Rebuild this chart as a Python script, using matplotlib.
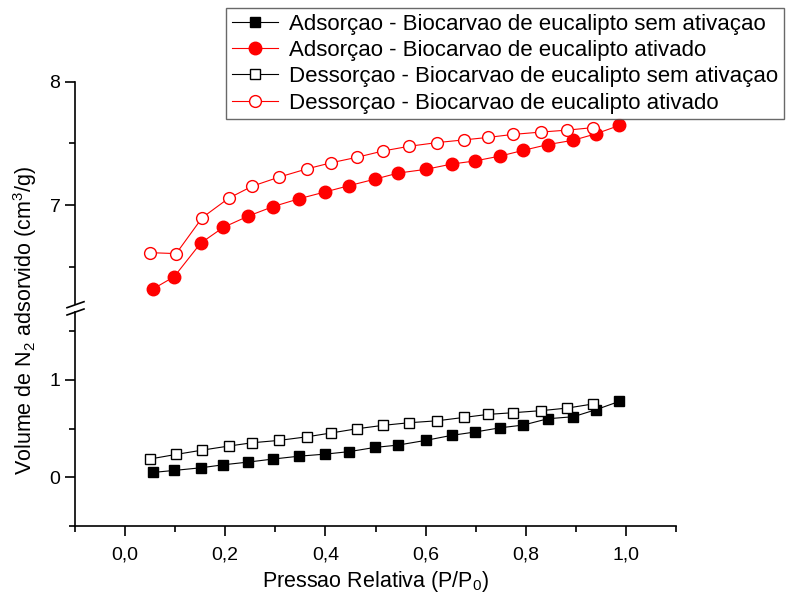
import matplotlib
matplotlib.use("Agg")
import matplotlib.pyplot as plt
from matplotlib.lines import Line2D
from matplotlib.ticker import MultipleLocator, FuncFormatter

plt.rcParams['font.family'] = ['Liberation Sans', 'DejaVu Sans']
plt.rcParams['mathtext.default'] = 'regular'

# relative pressure (P/P0)
p_ads = [0.055, 0.098, 0.151, 0.196, 0.246, 0.295, 0.348, 0.400, 0.448, 0.499,
         0.545, 0.600, 0.652, 0.698, 0.749, 0.795, 0.844, 0.895, 0.940, 0.987]
p_des = [0.049, 0.102, 0.154, 0.207, 0.254, 0.307, 0.363, 0.412, 0.463, 0.515,
         0.567, 0.623, 0.677, 0.725, 0.774, 0.830, 0.883, 0.934]

# volume N2 adsorbed (cm3/g)
ads_sem = [0.048, 0.069, 0.096, 0.127, 0.155, 0.186, 0.216, 0.237, 0.263, 0.306,
           0.330, 0.378, 0.430, 0.464, 0.508, 0.536, 0.601, 0.622, 0.694, 0.780]
ads_ativ = [6.320, 6.421, 6.693, 6.820, 6.912, 6.988, 7.053, 7.108, 7.159, 7.211,
            7.260, 7.290, 7.333, 7.358, 7.398, 7.444, 7.491, 7.526, 7.578, 7.646]
des_sem = [0.186, 0.234, 0.278, 0.320, 0.354, 0.378, 0.415, 0.455, 0.498, 0.533,
           0.560, 0.580, 0.615, 0.646, 0.663, 0.684, 0.711, 0.753]
des_ativ = [6.616, 6.608, 6.899, 7.057, 7.154, 7.227, 7.294, 7.344, 7.388, 7.439,
            7.477, 7.507, 7.529, 7.549, 7.573, 7.592, 7.608, 7.628]

labels = ["Adsorçao - Biocarvao de eucalipto sem ativaçao",
          "Adsorçao - Biocarvao de eucalipto ativado",
          "Dessorçao - Biocarvao de eucalipto sem ativaçao",
          "Dessorçao - Biocarvao de eucalipto ativado"]

W, H = 786, 599
fig = plt.figure(figsize=(W / 100, H / 100), dpi=100)

x0, x1 = 75 / W, 676 / W
ax_lo = fig.add_axes([x0, 1 - 525.7 / H, x1 - x0, (525.7 - 312) / H])
ax_hi = fig.add_axes([x0, 1 - 304 / H, x1 - x0, (304 - 81.7) / H])

lw = 0.8
ax_lo.plot(p_ads, ads_sem, color='black', lw=lw, marker='s', ms=7,
           mfc='black', mec='black')
ax_lo.plot(p_des, des_sem, color='black', lw=lw, marker='s', ms=7,
           mfc='white', mec='black', mew=1)
ax_hi.plot(p_ads, ads_ativ, color='red', lw=lw, marker='o', ms=9,
           mfc='red', mec='red')
ax_hi.plot(p_des, des_ativ, color='red', lw=lw, marker='o', ms=8.5,
           mfc='white', mec='red', mew=1)

for ax in (ax_lo, ax_hi):
    ax.set_xlim(-0.1, 1.1)
    ax.spines['top'].set_visible(False)
    ax.spines['right'].set_visible(False)
    ax.spines['left'].set_linewidth(1.2)
    ax.spines['bottom'].set_linewidth(1.2)
    ax.patch.set_alpha(0)
    ax.tick_params(which='major', direction='out', length=7, width=1.2, labelsize=14)
    ax.tick_params(which='minor', direction='out', length=4, width=1.2)

ax_lo.set_ylim(-0.5, 1.7)
ax_lo.yaxis.set_major_locator(MultipleLocator(1))
ax_lo.yaxis.set_minor_locator(MultipleLocator(0.5))
ax_lo.xaxis.set_major_locator(MultipleLocator(0.2))
ax_lo.xaxis.set_minor_locator(MultipleLocator(0.1))
ax_lo.xaxis.set_major_formatter(FuncFormatter(lambda v, pos: f"{v:.1f}".replace('.', ',')))
ax_lo.tick_params(axis='x', pad=8)

ax_hi.set_ylim(6.2, 8.0)
ax_hi.yaxis.set_major_locator(MultipleLocator(1))
ax_hi.yaxis.set_minor_locator(MultipleLocator(0.5))
ax_hi.spines['bottom'].set_visible(False)
ax_hi.tick_params(axis='x', which='both', bottom=False, labelbottom=False)

# axis break marks
for yb in (304.7, 312):
    fig.add_artist(Line2D([67 / W, 84 / W], [1 - (yb + 3) / H, 1 - (yb - 3) / H],
                          color='black', lw=1.2))

fig.text(375.5 / W, 1 - 582 / H, "Pressao Relativa (P/P$_0$)", fontsize=15.5,
         ha='center', va='center')
fig.text(25 / W, 1 - 320 / H, "Volume de N$_2$ adsorvido (cm$^3$/g)", fontsize=15.5,
         ha='center', va='center', rotation=90)

handles = [ax_lo.lines[0], ax_hi.lines[0], ax_lo.lines[1], ax_hi.lines[1]]
leg = fig.legend(handles, labels, loc='upper right', bbox_to_anchor=(784 / W, 1 - 8 / H),
                 fontsize=16, frameon=True, fancybox=False, handlelength=2.1,
                 handletextpad=0.5, labelspacing=0.24, borderpad=0.25,
                 borderaxespad=0)
leg.get_frame().set_edgecolor('#444444')
leg.get_frame().set_linewidth(1.0)

fig.savefig("out.png", dpi=100)
